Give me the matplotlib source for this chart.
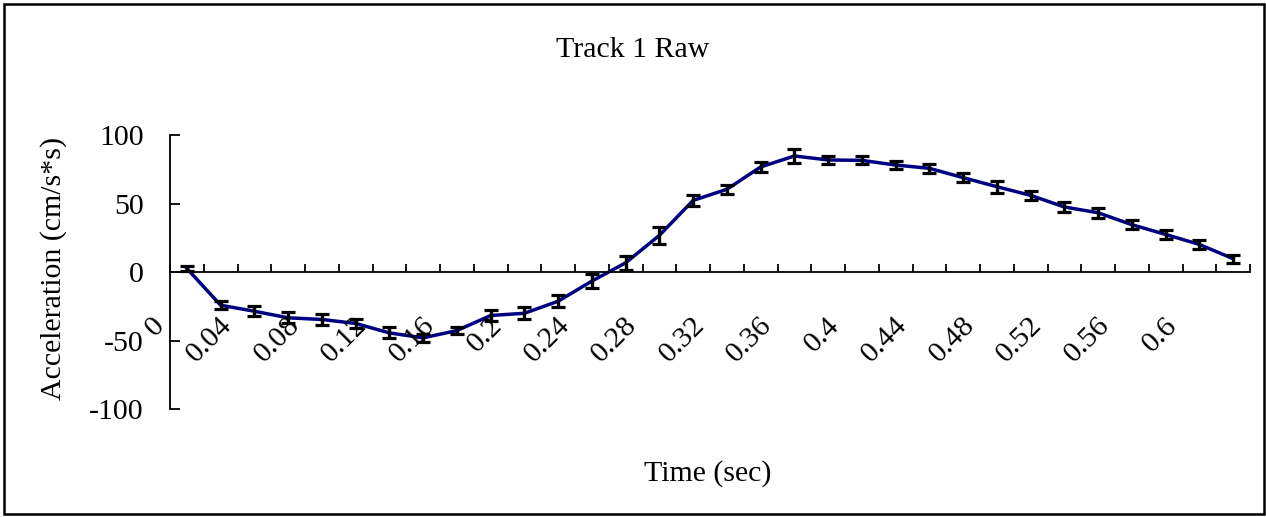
import matplotlib
matplotlib.use("Agg")
import matplotlib.pyplot as plt
from matplotlib.patches import Rectangle
from matplotlib.transforms import ScaledTranslation

plt.rcParams['font.family'] = ['Liberation Serif', 'DejaVu Serif']

# sample times (sec), one per category
times = ['0', '0.02', '0.04', '0.06', '0.08', '0.1', '0.12', '0.14', '0.16', '0.18',
         '0.2', '0.22', '0.24', '0.26', '0.28', '0.3', '0.32', '0.34', '0.36', '0.38',
         '0.4', '0.42', '0.44', '0.46', '0.48', '0.5', '0.52', '0.54', '0.56', '0.58',
         '0.6', '0.62']
# every other category gets a label
tick_labels = ['0', '0.04', '0.08', '0.12', '0.16', '0.2', '0.24', '0.28',
               '0.32', '0.36', '0.4', '0.44', '0.48', '0.52', '0.56', '0.6']

accel = [2.7, -24.1, -28.5, -33.3, -34.5, -37.4, -44.3, -47.9, -42.6, -31.6,
         -30.0, -21.2, -6.5, 6.8, 26.8, 52.3, 60.4, 76.7, 84.7, 81.8,
         81.5, 78.1, 75.7, 68.9, 62.3, 56.0, 47.5, 43.3, 34.6, 27.5,
         20.2, 9.8]
accel_err = [2, 3, 3.5, 4, 4, 3, 4, 3, 2.5, 4,
             4.5, 4.5, 5, 5, 6, 4, 3.5, 3.5, 5, 3,
             3, 3, 3.5, 3.5, 4.5, 3.5, 3.5, 3.5, 3.5, 3.5,
             3.5, 3]

FS = 21.5
W, H = 1266, 517
fig = plt.figure(figsize=(W / 100, H / 100), dpi=100)
ax = fig.add_axes([170 / W, 1 - 409.3 / H, 1080 / W, 274.3 / H])

idx = list(range(len(times)))
ax.plot(idx, accel, color='#000080', lw=2.5, zorder=2)
ax.errorbar(idx, accel, yerr=accel_err, fmt='none', ecolor='black',
            elinewidth=2.4, capsize=4.7, capthick=2.3, zorder=3)

ax.set_xlim(-0.5, len(times) - 0.5)
ax.set_ylim(-100, 100)
ax.set_yticks([-100, -50, 0, 50, 100])
ax.set_yticklabels(['-100', '-50', '0', '50', '100'])

for s in ['top', 'right']:
    ax.spines[s].set_visible(False)
ax.spines['bottom'].set_position(('data', 0))
ax.spines['bottom'].set_linewidth(1.3)
ax.spines['left'].set_linewidth(1.3)

# category axis: tick marks sit between categories
ax.set_xticks([i - 0.5 for i in range(len(times) + 1)])
ax.set_xticklabels([])
ax.tick_params(axis='x', direction='in', length=6, width=1.3)
ax.tick_params(axis='y', direction='in', length=7.5, width=1.3, pad=19,
               labelsize=FS)

shift = ax.transData + ScaledTranslation(-0.17, -0.40, fig.dpi_scale_trans)
for i, lab in zip(idx[::2], tick_labels):
    ax.text(i, 0, lab, transform=shift, rotation=45, ha='right', va='top',
            fontsize=FS, clip_on=False)

fig.text(0.5, 1 - 56.7 / H, 'Track 1 Raw', ha='center', va='baseline', fontsize=FS)
fig.text(707.5 / W, 1 - 481 / H, 'Time (sec)', ha='center', va='baseline', fontsize=FS)
fig.text(54 / W, 1 - 268 / H, 'Acceleration (cm/s*s)', rotation=90,
         ha='center', va='center', fontsize=FS)

# chart frame
fig.patches.append(Rectangle((3.5 / W, 3.5 / H), (W - 6) / W, (H - 7) / H,
                             transform=fig.transFigure, fill=False,
                             edgecolor='black', lw=1.8))

fig.savefig('out.png', dpi=100)
